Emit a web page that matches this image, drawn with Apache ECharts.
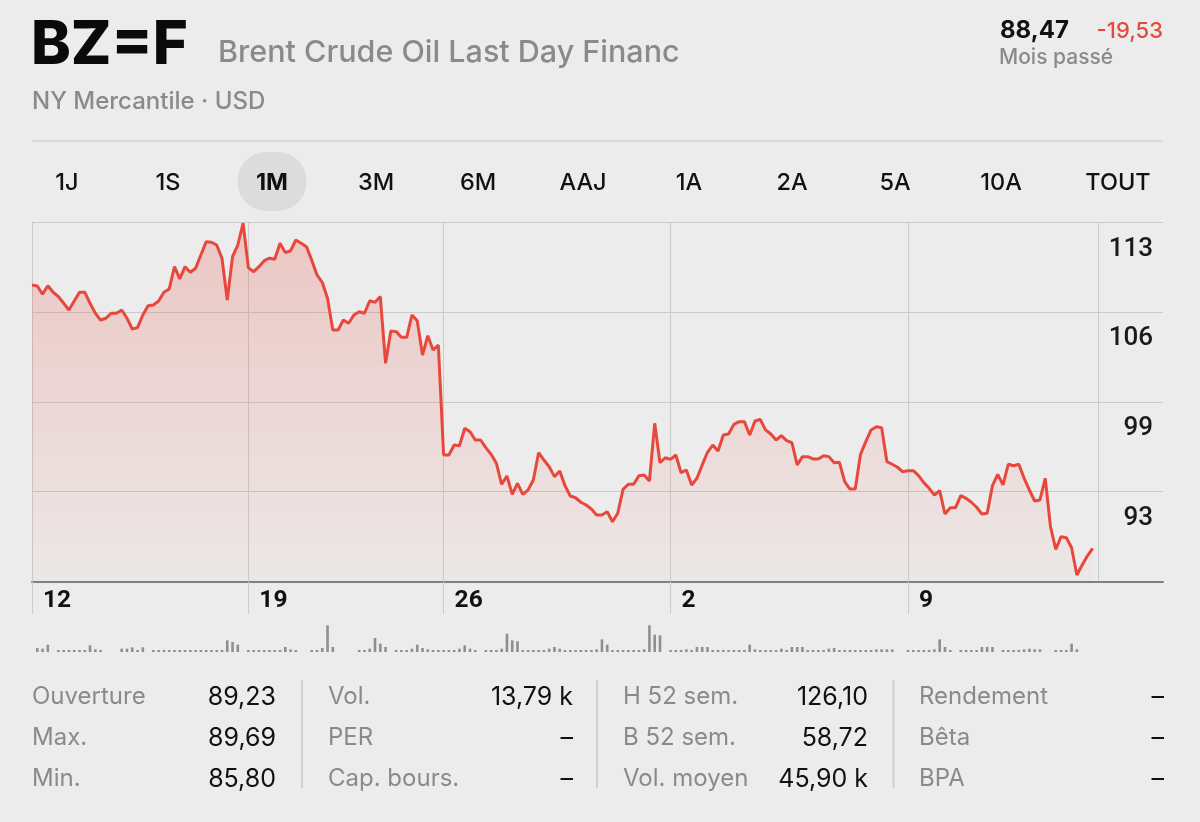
<!DOCTYPE html>
<html>
<head>
<meta charset="utf-8">
<script src="https://cdn.jsdelivr.net/npm/echarts@6/dist/echarts.min.js"></script>
<style>
html,body{margin:0;padding:0;background:#ececec;}
#c{width:1200px;height:822px;}
</style>
</head>
<body>
<div id="c"></div>
<script>
// ---------------- DATA ----------------
const ticker = 'BZ=F';
const instrumentName = 'Brent Crude Oil Last Day Financ';
const exchangeLine = 'NY Mercantile · USD';
const lastPrice = '88,47';
const changeValue = '-19,53';
const changePeriod = 'Mois passé';
const periods = ['1J','1S','1M','3M','6M','AAJ','1A','2A','5A','10A','TOUT'];
const activePeriod = '1M';

const weekLabels = ['12','19','26','2','9'];
const weekStartIndex = [0,41,78,121,166];

const yMin = 86.6, yMax = 113, yStep = 6.6;

const prices = [
108.37,108.30,107.69,108.32,107.84,107.52,107.03,106.54,107.20,107.84,
107.84,107.03,106.30,105.80,105.93,106.30,106.30,106.54,105.93,105.14,
105.24,106.17,106.85,106.91,107.20,107.84,108.08,109.72,108.82,109.72,
109.31,109.60,110.58,111.55,111.51,111.31,110.34,107.27,110.45,111.31,
112.91,109.65,109.35,109.72,110.16,110.34,110.26,111.44,110.75,110.89,
111.68,111.44,111.19,110.21,109.11,108.57,107.40,105.07,105.07,105.80,
105.56,106.17,106.41,106.30,107.22,107.10,107.52,102.62,105.00,104.95,
104.53,104.53,106.17,105.75,103.23,104.65,103.60,103.97,95.89,95.89,
96.62,96.57,97.85,97.60,96.99,96.99,96.43,95.94,95.28,93.74,
94.35,93.00,93.81,93.00,93.32,94.05,96.06,95.52,95.03,94.30,
94.71,93.64,92.88,92.75,92.42,92.22,91.92,91.48,91.48,91.73,
90.99,91.61,93.37,93.74,93.74,94.37,94.42,93.98,98.22,95.32,
95.69,95.57,95.89,94.59,94.79,93.69,94.18,95.16,96.09,96.62,
96.18,97.36,97.43,98.14,98.34,98.34,97.36,98.39,98.51,97.73,
97.43,96.99,97.31,96.94,96.79,95.16,95.77,95.77,95.60,95.60,
95.84,95.77,95.32,95.35,93.93,93.39,93.39,95.94,96.87,97.73,
97.97,97.90,95.40,95.21,94.99,94.66,94.74,94.74,94.37,93.86,
93.44,92.95,93.27,91.56,92.02,92.02,92.90,92.71,92.42,92.05,
91.56,91.61,93.64,94.47,93.69,95.21,95.10,95.21,94.18,93.32,
92.51,92.59,94.18,90.62,88.96,89.89,89.82,89.08,87.08,87.81,
88.49,89.04
];

const volumes = [
null,12,10,22,null,2,2,2,2,3,
5,20,8,2,null,null,null,10,10,14,
6,14,null,2,2,2,4,5,6,6,
5,2,2,2,2,2,4,35,30,22,
null,2,2,2,2,2,4,5,15,8,
2,null,null,2,6,12,80,15,null,null,
null,null,2,2,10,42,25,15,null,2,
2,4,10,22,12,8,5,2,2,2,
4,10,20,10,3,null,2,2,5,10,
55,35,32,3,2,6,2,5,10,15,
10,3,3,3,3,3,5,8,38,22,
2,2,2,2,2,4,8,80,52,50,
null,2,2,2,8,5,15,15,15,2,
2,2,2,2,5,5,22,8,2,2,
2,2,10,5,15,15,15,2,2,2,
2,10,12,5,2,2,3,2,2,5,
8,8,8,8,null,null,2,2,2,2,
5,8,38,15,3,null,2,2,2,3,
15,15,15,null,2,2,2,5,8,10,
8,8,null,null,2,2,2,25,8,null,
null,null
];

const statLabels = [
  ['Ouverture','Max.','Min.'],
  ['Vol.','PER','Cap. bours.'],
  ['H 52 sem.','B 52 sem.','Vol. moyen'],
  ['Rendement','Bêta','BPA']
];
const statValues = [
  ['89,23','89,69','85,80'],
  ['13,79 k','–','–'],
  ['126,10','58,72','45,90 k'],
  ['–','–','–']
];

// ---------------- LAYOUT ----------------
const FONT = 'Inter, "Noto Sans", Roboto, sans-serif';
const NUMFONT = 'Roboto, Inter, sans-serif';
const periodCenters = [67,168,272,376,478,583,689,792,895,1001,1118];
const statLabelX = [32,328,623,919];
const statValueX = [276,573,868,1164];
const statRowY = [696,737,778];
const statSepX = [302,597,893.5];

const slots = prices.length + 1;
const categories = Array.from({length: slots}, (_, i) => String(i));
const isWeekStart = i => weekStartIndex.indexOf(i) !== -1;

const graphic = [];
function txt(x, y, text, size, weight, color, align, family) {
  graphic.push({
    type: 'text', x: x, y: y, silent: true, z: 10,
    style: {
      text: text, fill: color, fontSize: size, fontWeight: weight, fontFamily: family || FONT,
      align: align, verticalAlign: 'middle', textAlign: align, textVerticalAlign: 'middle'
    }
  });
}

// header
txt(31, 46, ticker, 60, 800, '#0a0a0a', 'left');
txt(218, 53, instrumentName, 30.5, 500, '#8a8a8a', 'left');
txt(32, 102, exchangeLine, 24, 500, '#8a8a8a', 'left');
txt(1000, 31, lastPrice, 24, 700, '#111111', 'left');
txt(1163, 31, changeValue, 22, 500, '#e5493a', 'right');
txt(999, 58, changePeriod, 21, 500, '#8a8a8a', 'left');
graphic.push({type:'line', z: 5, silent:true, shape:{x1:32, y1:141, x2:1163, y2:141}, style:{stroke:'#d4d4d4', lineWidth:1.5}});

// period selector
const activeIdx = periods.indexOf(activePeriod);
graphic.push({type:'rect', z: 5, silent:true, shape:{x: periodCenters[activeIdx]-34.5, y:152, width:69, height:59, r:29}, style:{fill:'#dcdcdc'}});
periods.forEach((p, i) => {
  txt(periodCenters[i], 183, p, 23.5, p === activePeriod ? 700 : 500, '#111111', 'center');
});

// stats table
statLabels.forEach((col, c) => {
  col.forEach((lab, r) => {
    txt(statLabelX[c], statRowY[r] + 1, lab, 24, 400, '#8a8a8a', 'left');
    txt(statValueX[c], statRowY[r] + 1, statValues[c][r], 25, 400, '#111111', 'right');
  });
});
statSepX.forEach(x => {
  graphic.push({type:'line', z: 5, silent:true, shape:{x1:x, y1:680, x2:x, y2:788}, style:{stroke:'#d0d0d0', lineWidth:2}});
});

// ---------------- CHART ----------------
const chart = echarts.init(document.getElementById('c'), null, {renderer: 'canvas'});
const gridColor = '#cbcbcb';

const option = {
  backgroundColor: '#ececec',
  animation: false,
  grid: [
    {left: 32, top: 222, width: 1066, height: 359.5, containLabel: false, outerBoundsMode: 'none'},
    {left: 32, top: 222, width: 1131, height: 359.5, containLabel: false, outerBoundsMode: 'none'},
    {left: 32, top: 622, width: 1066, height: 30, containLabel: false, outerBoundsMode: 'none'}
  ],
  xAxis: [
    {
      gridIndex: 0, type: 'category', data: categories, boundaryGap: false,
      axisLine: {show: false},
      axisTick: {show: true, interval: (i) => isWeekStart(i), length: 32, lineStyle: {color: gridColor, width: 1}},
      axisLabel: {
        show: true, interval: (i) => isWeekStart(i),
        formatter: (v, i) => { const k = weekStartIndex.indexOf(i); return k >= 0 ? weekLabels[k] : ''; },
        align: 'left', padding: [0, 0, 0, 11], margin: 7,
        fontSize: 24.5, fontWeight: 700, color: '#111111', fontFamily: NUMFONT, hideOverlap: false
      },
      splitLine: {show: true, interval: (i) => isWeekStart(i) || i === slots - 1, lineStyle: {color: gridColor, width: 1}}
    },
    {
      gridIndex: 1, type: 'value', min: 0, max: 1,
      axisLine: {show: true, onZero: false, lineStyle: {color: '#808080', width: 2}},
      axisTick: {show: false}, axisLabel: {show: false}, splitLine: {show: false}
    },
    {gridIndex: 2, type: 'category', data: categories, boundaryGap: false, show: false}
  ],
  yAxis: [
    {gridIndex: 0, type: 'value', min: yMin, max: yMax, interval: yStep, show: false},
    {
      gridIndex: 1, type: 'value', min: yMin, max: yMax, interval: yStep, position: 'right',
      axisLine: {show: false}, axisTick: {show: false},
      splitLine: {show: true, lineStyle: {color: gridColor, width: 1}},
      axisLabel: {
        inside: true, margin: 10,
        formatter: (v) => v < yMin + yStep / 2 ? '' : String(Math.floor(v + 1e-6)),
        fontSize: 26, fontWeight: 500, color: '#1a1a1a', fontFamily: NUMFONT,
        verticalAlign: 'top', padding: [14, 0, 0, 0],
        showMinLabel: false, showMaxLabel: true
      }
    },
    {gridIndex: 2, type: 'value', min: 0, max: 90, show: false}
  ],
  series: [
    {
      type: 'line', xAxisIndex: 0, yAxisIndex: 0, data: prices,
      showSymbol: false, symbol: 'none', z: 3,
      lineStyle: {color: '#e8483b', width: 3},
      areaStyle: {
        origin: 'start',
        color: new echarts.graphic.LinearGradient(0, 0, 0, 1, [
          {offset: 0, color: 'rgba(232,72,59,0.33)'},
          {offset: 1, color: 'rgba(232,72,59,0.04)'}
        ])
      }
    },
    {
      type: 'bar', xAxisIndex: 2, yAxisIndex: 2, data: volumes,
      barWidth: 2.6, barMinHeight: 2, itemStyle: {color: '#8f8f8f'}
    }
  ],
  graphic: graphic
};
chart.setOption(option);
</script>
</body>
</html>
